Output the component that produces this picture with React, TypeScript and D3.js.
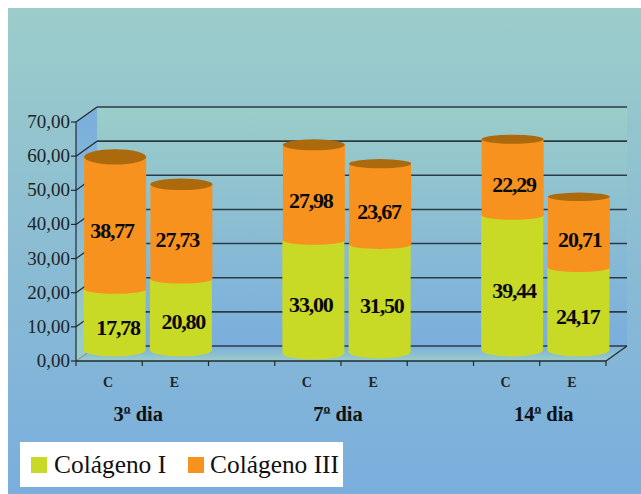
import React from "react";
import * as d3 from "d3";

// Collagen share per time point and group
const slots = ["3C", "3E", "_a", "7C", "7E", "_b", "14C", "14E"];
const barSlots = ["3C", "3E", "7C", "7E", "14C", "14E"];
const barLetters = ["C", "E", "C", "E", "C", "E"];
const colagenoI = [17.78, 20.8, 33.0, 31.5, 39.44, 24.17];
const colagenoIII = [38.77, 27.73, 27.98, 23.67, 22.29, 20.71];
const yTicks = [0, 10, 20, 30, 40, 50, 60, 70];
const dayNumbers = ["3", "7", "14"];
const daySuffix = "º dia";
const dayFirstSlots = ["3E", "7E", "14E"];
const seriesNames = ["Colágeno I", "Colágeno III"];

// Layout of the pseudo-3D frame
const W = 641;
const H = 494;
const DEPTH_X = 21;
const DEPTH_Y = -15;
const BAR_W = 62;
const BAR_DX = 6;
const BAR_DY = -11;
const baseDrop = [0, 0, 3, 2, 0, 0];
const capRy = [7.7, 5.8, 5.5, 4.6, 4.6, 4.2];
const dayDx = [-4, -3, 4];
const lowerLabelDx = [3, 2, -3, 1.7, 1.5, -1];
const upperLabelDx = [-3, -4, -3, -1, 1.5, 1];
const DAY_FONT = 20.5;

const GREEN = "#c9da26";
const ORANGE = "#f8921e";
const CAP = "#ad6a0c";
const INK = "#222a2e";
const GRID = "#2b3b43";
const SERIF = "'Liberation Serif', 'Times New Roman', serif";

const x = d3.scaleBand<string>().domain(slots).range([76, 606]);
const y = d3.scaleLinear().domain([0, 70]).range([361, 122]);

const fmt = (v: number) => v.toFixed(2).replace(".", ",");

// One cylinder slice: straight sides with a convex lower rim
function slicePath(cx: number, top: number, bottom: number, ry: number) {
  const rx = BAR_W / 2;
  return `M${cx - rx},${top}L${cx - rx},${bottom}A${rx},${ry} 0 0 0 ${cx + rx},${bottom}L${cx + rx},${top}Z`;
}

export default function App() {
  const backX0 = 76 + DEPTH_X;
  const backX1 = 606 + DEPTH_X;
  const y0 = y(0);
  const y70 = y(70);

  return (
    <svg
      width={W}
      height={H}
      viewBox={`0 0 ${W} ${H}`}
      style={{ position: "fixed", left: 0, top: 0, display: "block", background: "#fff" }}
      fontFamily={SERIF}
    >
      <defs>
        <linearGradient id="panel" x1="0" y1="0" x2="0" y2="1">
          <stop offset="0" stopColor="#9ccdca" />
          <stop offset="0.5" stopColor="#8bbcd3" />
          <stop offset="1" stopColor="#7aaedd" />
        </linearGradient>
        <linearGradient id="wall" x1="0" y1="0" x2="0" y2="1">
          <stop offset="0" stopColor="#9bcdc8" />
          <stop offset="1" stopColor="#7aaedd" />
        </linearGradient>
        <linearGradient id="side" x1="0" y1="0" x2="0" y2="1">
          <stop offset="0" stopColor="#7aaedd" />
          <stop offset="1" stopColor="#9bcdc8" />
        </linearGradient>
      </defs>

      <rect x={8} y={8} width={W - 8} height={H - 8} fill="url(#panel)" />

      {/* back wall, side wall and floor */}
      <rect x={backX0} y={y70 + DEPTH_Y} width={backX1 - backX0} height={y0 - y70} fill="url(#wall)" />
      <path
        d={`M76,${y70}L${backX0},${y70 + DEPTH_Y}L${backX0},${y0 + DEPTH_Y}L76,${y0}Z`}
        fill="url(#side)"
      />
      <path
        d={`M76,${y0}L606,${y0}L${backX1},${y0 + DEPTH_Y}L${backX0},${y0 + DEPTH_Y}Z`}
        fill="url(#side)"
      />

      {yTicks.map((t) => (
        <g key={t}>
          <line
            x1={backX0}
            x2={backX1}
            y1={y(t) + DEPTH_Y}
            y2={y(t) + DEPTH_Y}
            stroke={GRID}
            strokeWidth={1.6}
          />
          <line
            x1={76}
            x2={backX0}
            y1={y(t)}
            y2={y(t) + DEPTH_Y}
            stroke={t === 0 ? "#8f9a9c" : INK}
            strokeWidth={1.2}
          />
          <line x1={71} x2={76} y1={y(t)} y2={y(t)} stroke={INK} strokeWidth={1.2} />
          <text x={70} y={y(t) + 6} textAnchor="end" fontSize={19} fill="#1d2428">
            {fmt(t)}
          </text>
        </g>
      ))}

      <line x1={76} x2={76} y1={y70} y2={y0} stroke={INK} strokeWidth={1.2} />
      <line x1={76} x2={606} y1={y0} y2={y0} stroke={INK} strokeWidth={1.4} />
      <line x1={606} x2={backX1} y1={y0} y2={y0 + DEPTH_Y} stroke={INK} strokeWidth={1.2} />
      {[...slots.map((s) => x(s) as number), 606].map((px) => (
        <line key={px} x1={px} x2={px} y1={y0} y2={y0 + 5} stroke={INK} strokeWidth={1.2} />
      ))}

      {/* stacked cylinders */}
      {barSlots.map((slot, i) => {
        const cx = (x(slot) as number) + x.bandwidth() / 2 + BAR_DX;
        const shift = BAR_DY + baseDrop[i];
        const base = y(0) + shift;
        const mid = y(colagenoI[i]) + shift;
        const top = y(colagenoI[i] + colagenoIII[i]) + shift;
        return (
          <g key={slot}>
            <path d={slicePath(cx - 0.5, mid, base, 6.5)} fill={GREEN} />
            <path d={slicePath(cx, top, mid, 4.5)} fill={ORANGE} />
            <ellipse cx={cx} cy={top} rx={BAR_W / 2} ry={capRy[i]} fill={CAP} />
            <text
              x={cx + lowerLabelDx[i]}
              y={(base + mid) / 2 + 15}
              textAnchor="middle"
              fontSize={22}
              fontWeight="bold"
              letterSpacing={-1.2}
              fill="#0a0a0a"
            >
              {fmt(colagenoI[i])}
            </text>
            <text
              x={cx + upperLabelDx[i]}
              y={(mid + top) / 2 + 15}
              textAnchor="middle"
              fontSize={22}
              fontWeight="bold"
              letterSpacing={-1.2}
              fill="#0a0a0a"
            >
              {fmt(colagenoIII[i])}
            </text>
          </g>
        );
      })}

      {barSlots.map((slot, i) => (
        <text
          key={slot}
          x={(x(slot) as number) + x.bandwidth() / 2 - 1}
          y={387}
          textAnchor="middle"
          fontSize={14}
          fontWeight="bold"
          fill="#1d2428"
        >
          {barLetters[i]}
        </text>
      ))}

      {dayNumbers.map((num, i) => {
        // Advance widths of the bold serif face place the rule under the ordinal sign
        const cx = (x(dayFirstSlots[i]) as number) + dayDx[i];
        const numW = num.length * 0.5 * DAY_FONT;
        const totalW = numW + 1.914 * DAY_FONT;
        const ordinalX = cx - totalW / 2 + numW;
        return (
          <g key={num}>
            <text x={cx} y={421} textAnchor="middle" fontSize={DAY_FONT} fontWeight="bold" fill="#111">
              {num + daySuffix}
            </text>
            <line
              x1={ordinalX}
              x2={ordinalX + 0.33 * DAY_FONT}
              y1={413}
              y2={413}
              stroke="#111"
              strokeWidth={1.2}
            />
          </g>
        );
      })}

      {/* legend */}
      <rect x={20} y={442} width={323} height={45} fill="#fff" />
      <rect x={31} y={457} width={16} height={16} fill={GREEN} />
      <text x={54} y={473} fontSize={25.4} fill="#111">
        {seriesNames[0]}
      </text>
      <rect x={188} y={457} width={16} height={16} fill={ORANGE} />
      <text x={210} y={473} fontSize={25.4} fill="#111">
        {seriesNames[1]}
      </text>
    </svg>
  );
}
